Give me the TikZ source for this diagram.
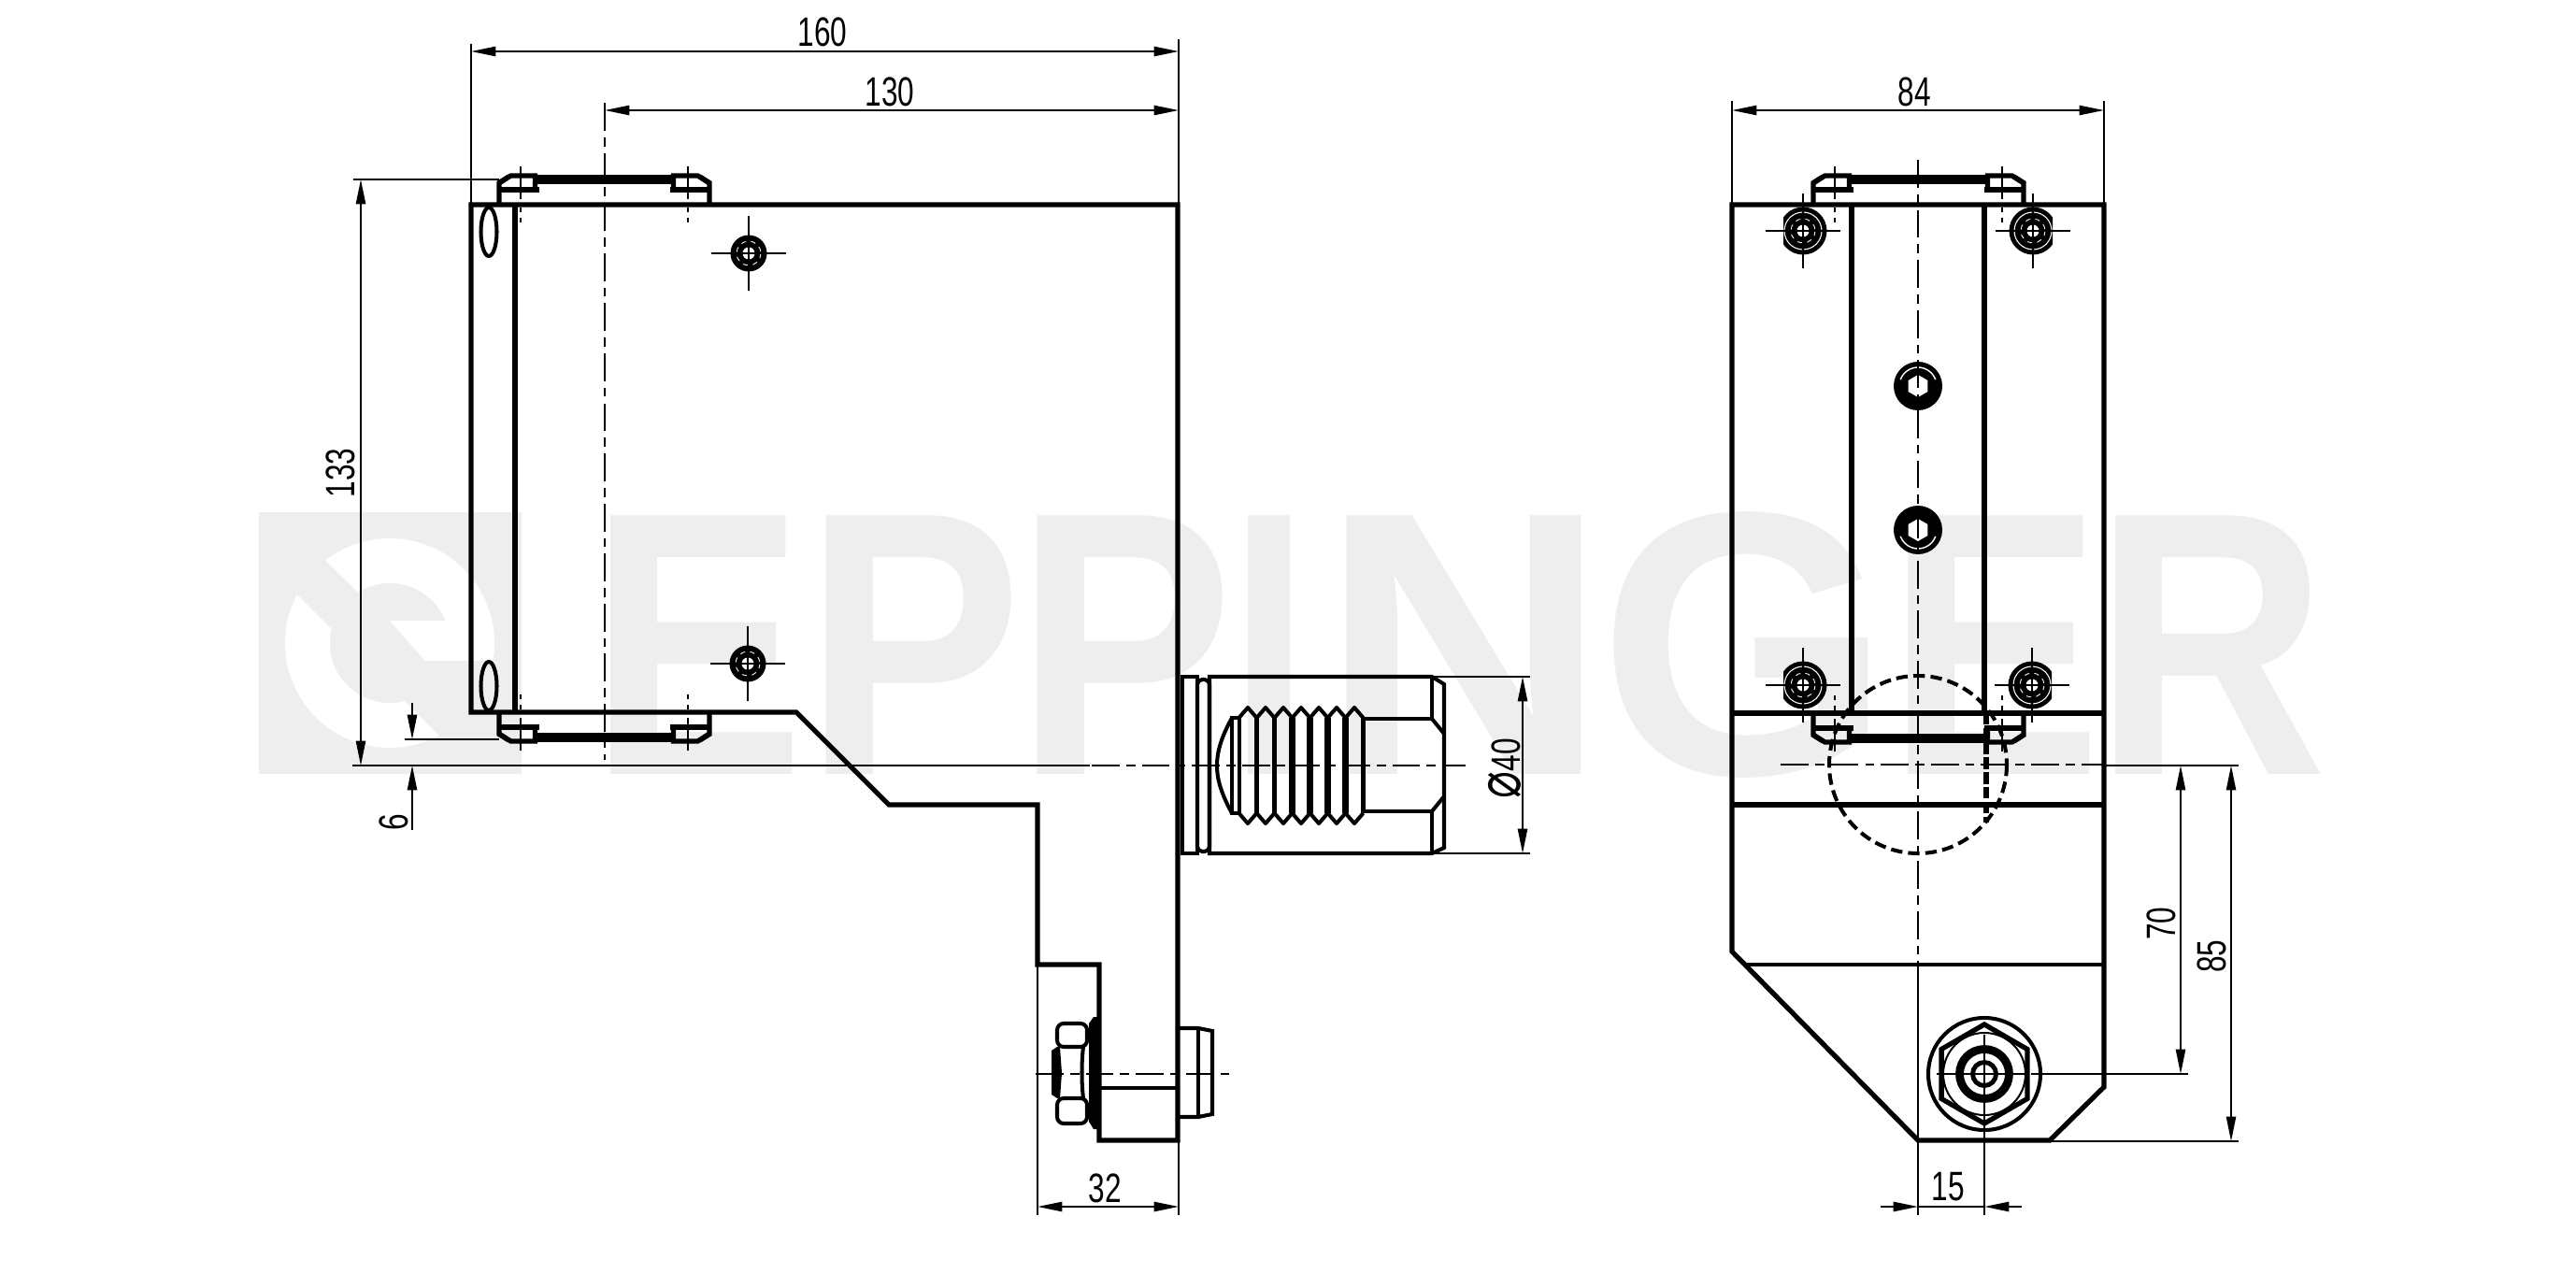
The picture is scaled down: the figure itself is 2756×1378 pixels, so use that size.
\documentclass[tikz,border=0pt]{standalone}
\usepackage{fontspec}
\setmainfont{Liberation Sans}
\newfontfamily\phifont{DejaVu Sans}
\usetikzlibrary{arrows.meta}
\definecolor {wmgrey}{HTML}{EEEEEE}

\begin{document}
\begin{tikzpicture}
			[x=.02cm,y=-.02cm,
			outl/.style={line width=3pt,line join=miter},
			midl/.style={line width=2.3pt},
			thinl/.style={line width=1.15pt},
			centl/.style={line width=1.15pt,dash pattern=on 17pt off 4pt on 5.5pt off 4pt},
			hidl/.style={line width=2.3pt,dash pattern=on 7pt off 3.5pt},
			dimarrow/.style={line width=1.15pt,<->,>={Stealth[inset=0pt,length=15pt,width=5.8pt]}},
			dimhalf/.style={line width=1.15pt,->,>={Stealth[inset=0pt,length=15pt,width=5.8pt]}},
			dimlabel/.style={inner sep=0pt,font=\fontsize{25}{25}\selectfont,xscale=.72},
			wmark/.style={inner sep=0pt,anchor=base west,text=wmgrey,font=\fontsize{229}{229}\selectfont\bfseries}]
			\useasboundingbox (0,0) rectangle (2756,1378);
			
			% watermark
			\fill[wmgrey] (277,548) rectangle (558,828);
			\fill[white] (417,688) circle (112);
			\fill[wmgrey] (417,688) circle (64);
			\fill[wmgrey] (318,570) -- (387,638) -- (354,672) -- (289,607) -- cycle;
			\begin{scope}
				\clip (417,688) circle (112);
				\fill[white] (417,664) -- (540,664) -- (540,707) -- (455,707) -- cycle;
			\end{scope}
			\fill[wmgrey] (455,707) -- (540,707) -- (540,800) -- (490,807) -- (433,750) -- cycle;
			\node[wmark,xscale=.86] (wm1) at (630,828) {E};
			\node[wmark,xscale=.87] (wm2) at (860,828) {P};
			\node[wmark,xscale=.87] (wm3) at (1086,828) {P};
			\node[wmark,xscale=.78] (wm4) at (1314,828) {I};
			\node[wmark,xscale=1.06] (wm5) at (1412,828) {N};
			\node[wmark,xscale=1.00] (wm6) at (1710,828) {G};
			\node[wmark,xscale=.86] (wm7) at (2018,828) {E};
			\node[wmark,xscale=.86] (wm8) at (2240,828) {R};
			
			% holder plates
			\foreach \cx/\cy/\sy in {646.5/219/1,646.5/762/-1,2052.5/219/1,2052.5/763/-1}
			{
				\begin{scope}[shift={(\cx,\cy)},yscale=\sy]
					\draw[outl] (-112.5,0) -- (-112.5,-23) -- (-100,-31) -- (-74,-31) -- (-74,-16);
					\draw[outl] (112.5,0) -- (112.5,-23) -- (100,-31) -- (74,-31) -- (74,-16);
					\draw[outl] (-114,-16) -- (-70,-16);
					\draw[outl] (114,-16) -- (70,-16);
					\draw[line width=5.2pt] (-74,-27) -- (74,-27);
					\fill (-114,-23) -- (-100,-32) -- (-104,-32) -- (-115,-25) -- cycle;
					\fill (114,-23) -- (100,-32) -- (104,-32) -- (115,-25) -- cycle;
					\foreach \bx in {-89.5,89.5}
					{
						\draw[thinl] (\bx,-41) -- (\bx,-6);
						\draw[thinl,dashed] (\bx,3) -- (\bx,24);
					}
				\end{scope}
			}
			
			% side view
			\draw[outl] (504,219) -- (1260,219) -- (1260,1220) -- (1176,1220) -- (1176,1032) -- (1110,1032) -- (1110,861) -- (951,861) -- (852,762) -- (504,762) -- cycle;
			\draw[outl] (551,219) -- (551,762);
			\draw[midl] (523,248) ellipse (8.5 and 26);
			\draw[midl] (523,734) ellipse (8.5 and 26);
			\foreach \sx/\sy in {801/271,800/710}
			{
				\fill (\sx,\sy) circle (19.5);
				\draw[white,line width=.5pt,dashed] (\sx,\sy) circle (13);
				\fill[white] (\sx,\sy) circle (6.5);
				\draw[thinl] ({\sx-40},\sy) -- ({\sx+40},\sy);
				\draw[thinl] (\sx,{\sy-40}) -- (\sx,{\sy+40});
			}
			\draw[centl] (647,110) -- (647,813);
			\draw[thinl] (377,819) -- (1166,819);
			\draw[centl] (1168,819) -- (1568,819);
			
			% insert
			\draw[midl] (1265,724) rectangle (1281,913);
			\draw[midl,rounded corners=3] (1281,727) rectangle (1294,911);
			\draw[midl] (1294,724) -- (1532,724) -- (1545,732) -- (1545,907) -- (1532,913) -- (1294,913) -- cycle;
			\draw[midl] (1532,724) -- (1532,769) -- (1458,769);
			\draw[midl] (1532,913) -- (1532,868) -- (1458,868);
			\draw[midl] (1532,769) -- (1545,785);
			\draw[midl] (1532,868) -- (1545,852);
			\draw[midl] (1318,768) .. controls (1306,790) and (1302,805) .. (1302,819) .. controls (1302,833) and (1306,848) .. (1318,870);
			\draw[midl] (1318,768) -- (1326,768) -- (1326,870) -- (1318,870) -- cycle;
			\foreach \c/\w in {1335/2.8,1354/3.2,1373/3.5,1392/3.8,1411/4,1430/3.8,1449/2.3}
			{
				\draw[midl,line join=round] ({\c-9.5},768) -- (\c,757) -- ({\c+9.5},768);
				\draw[midl,line join=round] ({\c-9.5},870) -- (\c,881) -- ({\c+9.5},870);
				\draw[line width=\w pt] ({\c+9.5},768) -- ({\c+9.5},870);
			}
			
			% clamp bolt
			\fill (1165,1095) -- (1170,1088) -- (1176,1088) -- (1176,1208) -- (1170,1208) -- (1165,1200) -- cycle;
			\draw[midl,rounded corners=4] (1131,1095) rectangle (1163,1120);
			\draw[midl,rounded corners=4] (1131,1175) rectangle (1163,1202);
			\fill (1125,1124) -- (1131,1120) -- (1134,1120) -- (1136,1148) -- (1134,1175) -- (1131,1175) -- (1125,1171) -- cycle;
			\draw[midl] (1159,1120) .. controls (1157,1135) and (1157,1160) .. (1159,1175);
			\draw[midl] (1176,1164) -- (1260,1164);
			\draw[midl] (1260,1100) -- (1282,1100) -- (1297,1103) -- (1297,1192) -- (1282,1195) -- (1260,1195);
			\draw[midl] (1282,1100) -- (1282,1195);
			\draw[centl] (1108,1149) -- (1320,1149);
			
			% front view
			\draw[outl] (1853,219) -- (2251,219) -- (2251,1163) -- (2193,1220) -- (2052,1220) -- (1853,1018) -- cycle;
			\draw[outl] (1853,763) -- (2251,763);
			\draw[outl] (1853,861) -- (2251,861);
			\draw[midl] (1866,1032) -- (2251,1032);
			\draw[outl] (1981,219) -- (1981,763);
			\draw[outl] (2123,219) -- (2123,763);
			\draw[hidl] (2052,818) circle (95);
			\draw[line width=3pt,dash pattern=on 7pt off 2pt] (2125,763) -- (2125,880);
			\foreach \sx/\sy/\fa/\fb in {1929/247/-21/27,2175/247/-27/21,1929/733/-21/27,2174/733/-27/21}
			{
				\begin{scope}
					\clip ({\sx+\fa},{\sy-30}) rectangle ({\sx+\fb},{\sy+30});
					\fill (\sx,\sy) circle (25.5);
				\end{scope}
				\draw[white,line width=.6pt] (\sx,\sy) circle (20);
				\draw[white,line width=.5pt,dashed] (\sx,\sy) circle (13);
				\fill[white] (\sx,\sy) circle (6.5);
				\draw[thinl] ({\sx-40},\sy) -- ({\sx+40},\sy);
				\draw[thinl] (\sx,{\sy-40}) -- (\sx,{\sy+40});
			}
			\foreach \sy/\ag/\ah in {413/200/340,567/20/160}
			{
				\fill (2052,\sy) circle (26);
				\draw[white,line width=.8pt] ([shift={(\ag:20)}]2052,\sy) arc (\ag:\ah:20);
				\fill[white] ([shift={(30:12)}]2052,\sy) -- ([shift={(90:12)}]2052,\sy) -- ([shift={(150:12)}]2052,\sy) -- ([shift={(210:12)}]2052,\sy) -- ([shift={(270:12)}]2052,\sy) -- ([shift={(330:12)}]2052,\sy) -- cycle;
			}
			\draw[centl] (2052,171) -- (2052,1030);
			\draw[centl] (1905,818) -- (2249,818);
			
			% big nut
			\begin{scope}[shift={(2123,1149)}]
				\draw[midl] (0,0) circle (60);
				\draw[outl] (30:53) -- (90:53) -- (150:53) -- (210:53) -- (270:53) -- (330:53) -- cycle;
				\draw[thinl] (0,0) circle (44);
				\draw[line width=5pt] (0,0) circle (26.5);
				\draw[line width=2.8pt] (0,0) circle (12.5);
			\end{scope}
			\draw[thinl] (2123,1107) -- (2123,1300);
			\draw[thinl] (2072,1149) -- (2167,1149);
			
			% extension lines
			\draw[thinl] (504,47) -- (504,219);
			\draw[thinl] (1261,42) -- (1261,219);
			\draw[thinl] (378,192) -- (534,192);
			\draw[thinl] (433,791) -- (534,791);
			\draw[thinl] (1532,724) -- (1637,724);
			\draw[thinl] (1532,913) -- (1637,913);
			\draw[thinl] (1110,1032) -- (1110,1300);
			\draw[thinl] (1261,1220) -- (1261,1300);
			\draw[thinl] (1853,108) -- (1853,219);
			\draw[thinl] (2251,108) -- (2251,219);
			\draw[thinl] (2251,819) -- (2395,819);
			\draw[thinl] (2173,1149) -- (2341,1149);
			\draw[thinl] (2193,1221) -- (2395,1221);
			\draw[thinl] (2052,1032) -- (2052,1300);
			
			% dimension lines
			\foreach \ax/\ay/\bx/\by in {504/55/1261/55,647/118/1261/118,386/192/386/819,1629/724/1629/913,1110/1291/1261/1291,1853/118/2251/118,2333/819/2333/1149,2387/819/2387/1221}
			\draw[dimarrow] (\ax,\ay) -- (\bx,\by);
			\foreach \ax/\ay/\bx/\by in {441/752/441/791,441/888/441/819,2012/1291/2052/1291,2163/1291/2123/1291}
			\draw[dimhalf] (\ax,\ay) -- (\bx,\by);
			\draw[thinl] (2052,1291) -- (2123,1291);
			
			% dimension labels
			\node[dimlabel] (d160) at (880,34) {160};
			\node[dimlabel] (d130) at (952,98) {130};
			\node[dimlabel] (d84) at (2048,98) {84};
			\node[dimlabel] (d32) at (1182,1271) {32};
			\node[dimlabel] (d15) at (2084,1270) {15};
			\node[rotate=90,dimlabel] (d133) at (364,506) {133};
			\node[rotate=90,dimlabel] (d6) at (421,880) {6};
			\node[rotate=90,dimlabel] (d70) at (2312,988) {70};
			\node[rotate=90,dimlabel] (d85) at (2366,1023) {85};
			\node[rotate=90,dimlabel] (d40) at (1610,822) {{\phifont\fontsize{38}{38}\selectfont ⌀}40};
			\end{tikzpicture}
\end{document}
